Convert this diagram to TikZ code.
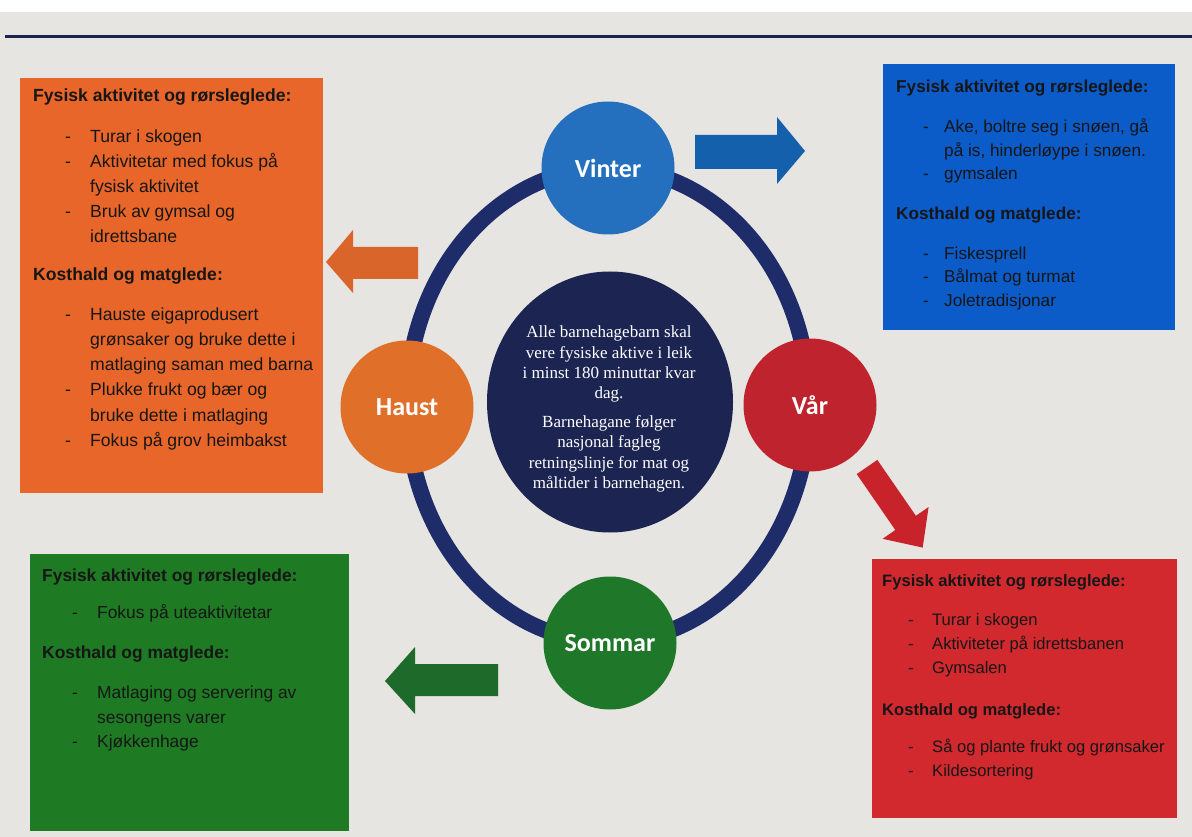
\documentclass[tikz,border=0pt]{standalone}
\usepackage{fontspec}
\setmainfont{Liberation Sans}
\newfontfamily\timesf{Liberation Serif}
\newfontfamily\calibf{Carlito}
\usetikzlibrary{shapes.geometric}
\definecolor{pagebg}{HTML}{E7E5E1}
\definecolor{navyline}{HTML}{1B2350}
\definecolor{ringc}{HTML}{1F2C6A}
\definecolor{corec}{HTML}{1C2452}
\definecolor{vinterc}{HTML}{2470BE}
\definecolor{haustc}{HTML}{E06F29}
\definecolor{varc}{HTML}{BF232E}
\definecolor{sommarc}{HTML}{1F7829}
\definecolor{oboxc}{HTML}{E8662A}
\definecolor{bboxc}{HTML}{0B5BC8}
\definecolor{gboxc}{HTML}{1F7A24}
\definecolor{rboxc}{HTML}{D2292F}
\definecolor{barrc}{HTML}{1560AC}
\definecolor{oarrc}{HTML}{D9652A}
\definecolor{garrc}{HTML}{1E6A2A}
\definecolor{rarrc}{HTML}{C8232B}
\definecolor{inkc}{HTML}{161616}
\newlength\da
\newlength\db
\newcommand\dl[1]{\hspace*{\da}\makebox[\db][l]{-}#1}
\newcommand\cl[1]{\hspace*{\da}\hspace*{\db}#1}
\newcommand\hd[1]{\textbf{#1}}
\begin{document}
\begin{tikzpicture}[x=1pt,y=-1pt,
  box/.style={rectangle, draw=none, anchor=north west, inner sep=0pt},
  season/.style={circle, minimum size=133pt, inner sep=0pt, text=white,
    font=\calibf\bfseries\fontsize{26}{30}\selectfont},
  boxtext/.style={anchor=north west, align=left, inner sep=0pt, text=inkc},
  dashpos/.style 2 args={execute at begin node={\setlength\da{#1}\setlength\db{#2}}},
  blockarrow/.style={draw=none}]
\useasboundingbox (0,0) rectangle (1192,837);
% page
\fill[pagebg] (0,12) rectangle (1192,837);
\coordinate (ruleL) at (5,37);
\coordinate (ruleR) at (1192,37);
\draw[navyline, line width=3pt] (ruleL) -- (ruleR);
% ring and core
\draw[ringc, line width=16pt] (608,405) ellipse [x radius=201pt, y radius=237pt];
\node[ellipse, fill=corec, minimum width=246pt, minimum height=261pt, inner sep=0pt] (core) at (610,402) {};
\node[align=center, text=white, font=\timesf\fontsize{17}{20.2}\selectfont] (coretext) at (609,409)
  {Alle barnehagebarn skal\\ vere fysiske aktive i leik\\ i minst 180 minuttar kvar\\ dag.\\[9pt]
   Barnehagane følger\\ nasjonal fagleg\\ retningslinje for mat og\\ måltider i barnehagen.};
% seasons
\node[season, fill=vinterc] (vinter) at (608,168) {Vinter};
\node[season, fill=haustc] (haust) at (407,407) {Haust};
\node[season, fill=varc] (var) at (810,405) {Vår};
\node[season, fill=sommarc] (sommar) at (610,643) {Sommar};
% boxes
\node[box, fill=oboxc, minimum width=303pt, minimum height=415pt] (obox) at (20,78) {};
\node[box, fill=bboxc, minimum width=292pt, minimum height=266pt] (bbox) at (883,64) {};
\node[box, fill=gboxc, minimum width=319pt, minimum height=277pt] (gbox) at (30,554) {};
\node[box, fill=rboxc, minimum width=305pt, minimum height=259pt] (rbox) at (872,559) {};
% arrows
\fill[barrc] (695,135) -- (777,135) -- (777,117) -- (805,151) -- (777,184) -- (777,169) -- (695,169) -- cycle;
\fill[oarrc] (418,247) -- (353,247) -- (353,230) -- (326,262) -- (353,293) -- (353,279) -- (418,279) -- cycle;
\fill[garrc] (498,664) -- (415,664) -- (415,647) -- (385,681) -- (415,714) -- (415,696) -- (498,696) -- cycle;
\fill[rarrc] (877.3,459.9) -- (915.9,515.8) -- (928.6,507.0) -- (922.7,547.6) -- (882.6,538.8) -- (895.3,530.0) -- (856.7,474.1) -- cycle;
% texts
\node[boxtext, dashpos={32pt}{25pt}, font=\fontsize{17.6}{25.2}\selectfont] (otext) at (33,89)
 {\hd{Fysisk aktivitet og rørsleglede:}\\[15pt]
  \dl{Turar i skogen}\\
  \dl{Aktivitetar med fokus på}\\
  \cl{fysisk aktivitet}\\
  \dl{Bruk av gymsal og}\\
  \cl{idrettsbane}\\[12pt]
  \hd{Kosthald og matglede:}\\[15pt]
  \dl{Hauste eigaprodusert}\\
  \cl{grønsaker og bruke dette i}\\
  \cl{matlaging saman med barna}\\
  \dl{Plukke frukt og bær og}\\
  \cl{bruke dette i matlaging}\\
  \dl{Fokus på grov heimbakst}};
\node[boxtext, dashpos={27pt}{21pt}, font=\fontsize{17.2}{23.5}\selectfont] (btext) at (896,80)
 {\hd{Fysisk aktivitet og rørsleglede:}\\[16.5pt]
  \dl{Ake, boltre seg i snøen, gå}\\
  \cl{på is, hinderløype i snøen.}\\
  \dl{gymsalen}\\[16.5pt]
  \hd{Kosthald og matglede:}\\[16pt]
  \dl{Fiskesprell}\\
  \dl{Bålmat og turmat}\\
  \dl{Joletradisjonar}};
\node[boxtext, dashpos={30pt}{25pt}, font=\fontsize{17.4}{24.5}\selectfont] (gtext) at (42,569)
 {\hd{Fysisk aktivitet og rørsleglede:}\\[12.5pt]
  \dl{Fokus på uteaktivitetar}\\[15.5pt]
  \hd{Kosthald og matglede:}\\[15.5pt]
  \dl{Matlaging og servering av}\\
  \cl{sesongens varer}\\
  \dl{Kjøkkenhage}};
\node[boxtext, dashpos={26pt}{24pt}, font=\fontsize{16.6}{24}\selectfont] (rtext) at (882,574)
 {\hd{Fysisk aktivitet og rørsleglede:}\\[15pt]
  \dl{Turar i skogen}\\
  \dl{Aktiviteter på idrettsbanen}\\
  \dl{Gymsalen}\\[18pt]
  \hd{Kosthald og matglede:}\\[13pt]
  \dl{Så og plante frukt og grønsaker}\\
  \dl{Kildesortering}};
\end{tikzpicture}
\end{document}
